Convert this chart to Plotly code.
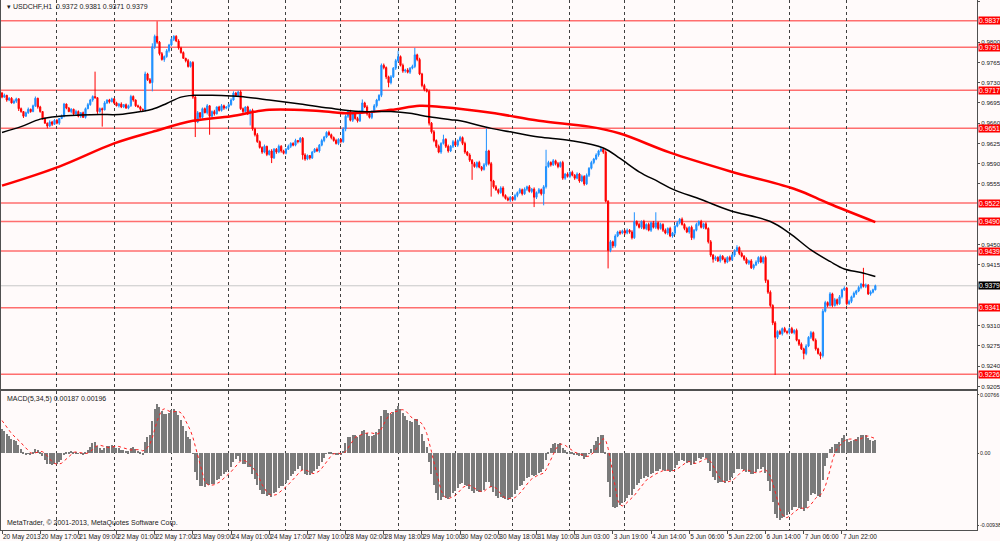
import numpy as np
import pandas as pd
import plotly.graph_objects as go
from plotly.subplots import make_subplots

# USDCHF H1, 20 May - 10 Jun 2013. Prices in 1/10000 (pips), one list per trading day
first_open = 9712
closes_by_day = [
    [9705, 9708, 9700, 9703, 9695, 9698, 9702, 9685, 9680, 9672, 9678, 9684, 9680, 9690, 9703, 9688, 9680, 9668, 9660, 9655, 9662, 9658, 9665],
    [9660, 9668, 9672, 9693, 9686, 9680, 9684, 9676, 9680, 9672, 9678, 9670, 9685, 9692, 9700, 9706, 9704, 9680, 9685, 9683, 9695, 9700, 9697, 9702],
    [9695, 9690, 9693, 9688, 9692, 9686, 9690, 9706, 9700, 9690, 9688, 9684, 9683, 9745, 9735, 9730, 9792, 9810, 9800, 9780, 9770, 9775, 9785, 9795],
    [9805, 9810, 9802, 9790, 9782, 9772, 9768, 9758, 9765, 9705, 9662, 9678, 9670, 9685, 9678, 9690, 9672, 9680, 9676, 9688, 9682, 9690, 9686, 9688],
    [9692, 9700, 9712, 9708, 9714, 9685, 9680, 9688, 9676, 9682, 9650, 9640, 9628, 9618, 9610, 9620, 9606, 9612, 9600, 9615, 9610, 9620, 9612, 9608],
    [9615, 9620, 9625, 9622, 9630, 9628, 9634, 9605, 9598, 9604, 9600, 9610, 9615, 9612, 9622, 9630, 9636, 9644, 9640, 9635, 9630, 9625, 9632],
    [9628, 9650, 9672, 9680, 9665, 9676, 9668, 9664, 9680, 9695, 9688, 9676, 9670, 9680, 9690, 9700, 9708, 9760, 9756, 9740, 9730, 9740, 9755, 9768],
    [9775, 9760, 9750, 9752, 9748, 9755, 9758, 9778, 9770, 9745, 9725, 9718, 9715, 9660, 9645, 9630, 9620, 9610, 9625, 9632, 9620, 9612, 9620, 9628],
    [9622, 9630, 9635, 9625, 9610, 9605, 9596, 9590, 9585, 9592, 9584, 9580, 9588, 9612, 9590, 9560, 9550, 9545, 9540, 9548, 9535, 9530, 9527, 9532],
    [9528, 9535, 9540, 9545, 9538, 9546, 9550, 9542, 9546, 9532, 9540, 9545, 9538, 9550, 9585, 9592, 9588, 9595, 9590, 9585, 9592, 9565, 9572, 9568],
    [9575, 9570, 9565, 9572, 9560, 9568, 9555, 9570, 9582, 9592, 9598, 9605, 9612, 9615, 9610, 9525, 9440, 9455, 9448, 9465, 9472, 9470, 9474],
    [9470, 9475, 9472, 9462, 9490, 9485, 9480, 9490, 9478, 9485, 9475, 9488, 9480, 9488, 9478, 9485, 9475, 9470, 9478, 9465, 9470],
    [9482, 9488, 9494, 9485, 9478, 9472, 9480, 9462, 9475, 9485, 9490, 9480, 9486, 9478, 9455, 9432, 9425, 9428, 9422, 9430, 9425, 9420, 9428, 9424],
    [9432, 9440, 9445, 9435, 9430, 9425, 9418, 9422, 9410, 9415, 9420, 9428, 9420, 9428, 9388, 9368, 9345, 9315, 9290, 9300, 9296, 9305, 9300, 9298],
    [9305, 9298, 9302, 9285, 9278, 9270, 9262, 9275, 9290, 9298, 9285, 9270, 9262, 9258, 9335, 9350, 9345, 9365, 9345, 9355, 9348, 9360, 9372, 9375],
    [9348, 9352, 9360, 9366, 9370, 9376, 9382, 9378, 9380, 9365, 9368, 9372, 9379],
]
# upper / lower wick length beyond the body, pips
wick_up_by_day = [
    [2, 3, 1, 2, 2, 3, 2, 1, 2, 1, 2, 3, 1, 2, 3, 1, 2, 1, 2, 1, 3, 2, 2],
    [2, 1, 3, 2, 1, 2, 2, 1, 3, 2, 1, 2, 2, 3, 2, 2, 43, 1, 2, 2, 3, 1, 2, 2],
    [1, 2, 2, 3, 1, 2, 2, 3, 2, 1, 2, 2, 1, 4, 2, 3, 6, 3, 26, 2, 3, 2, 3, 2],
    [3, 2, 2, 3, 2, 2, 1, 3, 2, 2, 2, 3, 1, 2, 2, 3, 1, 2, 3, 1, 2, 3, 2, 1],
    [2, 3, 3, 2, 2, 3, 2, 1, 2, 2, 3, 2, 3, 2, 2, 3, 1, 2, 3, 2, 2, 3, 2, 2],
    [2, 3, 2, 2, 3, 1, 2, 2, 3, 2, 1, 2, 2, 3, 2, 3, 2, 2, 3, 2, 2, 3, 2],
    [2, 3, 3, 2, 3, 2, 2, 3, 2, 6, 2, 3, 2, 2, 3, 2, 2, 3, 3, 2, 2, 3, 2, 3],
    [10, 2, 3, 2, 3, 2, 3, 12, 2, 3, 2, 3, 2, 3, 2, 3, 2, 3, 2, 8, 2, 3, 2, 3],
    [3, 2, 3, 2, 3, 2, 3, 2, 3, 2, 3, 2, 3, 39, 2, 3, 2, 3, 2, 3, 3, 2, 3, 2],
    [2, 3, 2, 3, 2, 3, 2, 3, 2, 3, 2, 3, 2, 3, 29, 3, 2, 3, 2, 3, 2, 3, 2, 3],
    [2, 3, 2, 3, 2, 3, 2, 3, 2, 3, 2, 3, 2, 3, 2, 3, 2, 3, 2, 3, 2, 3, 2],
    [2, 3, 2, 3, 16, 2, 3, 2, 3, 2, 3, 2, 3, 18, 2, 3, 2, 3, 2, 3, 2],
    [2, 3, 2, 3, 2, 3, 2, 3, 2, 3, 2, 3, 2, 3, 2, 3, 2, 3, 2, 3, 2, 3, 2, 3],
    [3, 2, 4, 2, 3, 2, 3, 2, 3, 2, 3, 2, 3, 2, 3, 2, 3, 2, 3, 2, 3, 2, 3, 2],
    [2, 3, 2, 3, 2, 3, 2, 3, 2, 3, 2, 3, 2, 3, 4, 3, 2, 3, 2, 3, 2, 3, 2, 3],
    [2, 3, 2, 3, 2, 3, 2, 28, 3, 2, 3, 2, 2],
]
wick_dn_by_day = [
    [2, 1, 3, 2, 1, 2, 3, 4, 2, 3, 1, 2, 2, 1, 2, 3, 2, 2, 1, 4, 2, 3, 1],
    [2, 3, 1, 2, 2, 1, 3, 2, 1, 2, 3, 1, 2, 1, 2, 3, 2, 4, 2, 29, 1, 2, 3, 1],
    [2, 1, 3, 2, 2, 1, 2, 2, 3, 2, 1, 3, 2, 3, 2, 2, 15, 4, 3, 3, 2, 4, 2, 3],
    [2, 3, 2, 3, 2, 1, 3, 2, 2, 3, 26, 2, 3, 2, 1, 3, 32, 2, 3, 1, 2, 2, 3, 2],
    [3, 2, 1, 2, 3, 2, 3, 2, 2, 20, 3, 3, 2, 2, 3, 2, 3, 2, 9, 2, 3, 2, 3, 2],
    [2, 1, 3, 2, 2, 3, 2, 8, 3, 2, 3, 2, 1, 2, 3, 2, 3, 2, 2, 3, 2, 2, 3],
    [3, 2, 4, 3, 2, 3, 2, 3, 2, 3, 2, 3, 2, 3, 2, 3, 2, 3, 3, 4, 8, 3, 2, 3],
    [3, 2, 3, 3, 2, 3, 2, 3, 3, 2, 3, 3, 2, 4, 3, 3, 3, 2, 3, 2, 3, 3, 2, 3],
    [2, 3, 2, 3, 3, 2, 3, 28, 2, 3, 2, 3, 2, 3, 3, 27, 3, 2, 3, 2, 3, 2, 2, 3],
    [3, 2, 3, 2, 3, 2, 3, 2, 3, 17, 3, 2, 3, 20, 3, 2, 3, 2, 3, 3, 2, 3, 3, 2],
    [3, 2, 3, 2, 3, 2, 3, 2, 3, 2, 3, 2, 3, 2, 3, 2, 31, 3, 4, 3, 2, 3, 2],
    [3, 2, 3, 3, 2, 3, 2, 3, 2, 3, 2, 3, 2, 3, 3, 2, 3, 2, 3, 2, 3],
    [3, 2, 3, 2, 3, 2, 3, 4, 3, 2, 3, 2, 3, 2, 3, 3, 6, 3, 2, 3, 2, 3, 2, 3],
    [2, 3, 2, 3, 2, 3, 2, 3, 2, 3, 2, 3, 2, 3, 4, 3, 3, 4, 65, 3, 2, 3, 2, 3],
    [3, 2, 3, 2, 3, 2, 10, 3, 2, 3, 2, 3, 2, 6, 3, 2, 3, 2, 3, 2, 3, 2, 3, 2],
    [3, 2, 3, 2, 3, 2, 3, 2, 3, 2, 3, 2, 1],
]

# moving averages: (bar index, price)
ma_black_idx = [0, 8, 16, 24, 33, 41, 49, 58, 63, 69, 75, 80, 88, 96, 100, 112, 125, 137, 150, 163, 171, 179,
                188, 192, 205, 213, 225, 238, 252, 259, 267, 275, 281, 293, 305, 322, 330, 339, 347, 353, 360, 366]
ma_black_val = [0.9644, 0.9654, 0.9667, 0.9672, 0.9674, 0.9675, 0.9675, 0.9680, 0.9684, 0.9694, 0.9705, 0.9708,
                0.9708, 0.9707, 0.9706, 0.9700, 0.9693, 0.9686, 0.9680, 0.9680, 0.9677, 0.9671, 0.9666, 0.9664,
                0.9651, 0.9645, 0.9636, 0.9630, 0.9617, 0.9599, 0.9576, 0.9559, 0.9546, 0.9528, 0.9509, 0.9490,
                0.9470, 0.9441, 0.9421, 0.9408, 0.9402, 0.9395]
ma_red_idx = [0, 24, 47, 63, 80, 96, 112, 133, 146, 163, 175, 184, 205, 225, 246, 259, 280, 305, 333, 346, 366]
ma_red_val = [0.9552, 0.9585, 0.9625, 0.9645, 0.9664, 0.9672, 0.9683, 0.9681, 0.9677, 0.9683, 0.9690, 0.9688,
              0.9678, 0.9664, 0.9654, 0.9642, 0.9609, 0.9577, 0.9545, 0.9522, 0.9489]

# horizontal levels drawn on the chart
levels = [0.9837, 0.9791, 0.9717, 0.9651, 0.9522, 0.9490, 0.9439, 0.9341, 0.9226]
# price scale labels left visible (the others sit under the level tags)
price_ticks = [0.9205, 0.9240, 0.9275, 0.9310, 0.9415, 0.9450, 0.9555, 0.9590,
               0.9625, 0.9660, 0.9695, 0.9730, 0.9765, 0.9800, 0.9870]
macd_ticks = [0.00766, 0.0, -0.00938]
macd_tick_text = ["0.00766", "0.00", "-0.00938"]

# MACD(5,34,5) state before the first visible bar (read from the indicator window)
ema_seed = (0.9712, 0.9676)
macd_before = [0.0052, 0.0048, 0.0044, 0.0039]

# ---- build bars
closes = np.array([c for d in closes_by_day for c in d], dtype=float)
up = np.array([w for d in wick_up_by_day for w in d], dtype=float)
dn = np.array([w for d in wick_dn_by_day for w in d], dtype=float)
opens = np.concatenate([[first_open], closes[:-1]])
highs = (np.maximum(opens, closes) + up) / 10000
lows = (np.minimum(opens, closes) - dn) / 10000
opens = opens / 10000
closes = closes / 10000
n = len(closes)
idx = np.arange(n)

# bar times: broker session opens Monday 01:00, three hours missing on 4 Jun
times = []
for d in pd.bdate_range("2013-05-20", "2013-06-10"):
    hours = range(1 if d.dayofweek == 0 else 0, 24)
    for h in hours:
        t = d + pd.Timedelta(hours=h)
        if d == pd.Timestamp("2013-06-04") and h in (1, 2, 3):
            continue
        times.append(t)
times = times[:n]

day_starts = [i for i in range(1, n) if times[i].date() != times[i - 1].date()]
label_idx = list(range(0, n, 16))
label_txt = [times[i].strftime("%-d %b %Y") if i == 0 else times[i].strftime("%-d %b %H:%M") for i in label_idx]

# MACD main and signal
e5, e34 = ema_seed
macd = []
for c in closes:
    e5 += (c - e5) * 2 / 6
    e34 += (c - e34) * 2 / 35
    macd.append(e5 - e34)
macd = np.array(macd)
ext = np.concatenate([macd_before, macd])
signal = np.array([ext[i:i + 5].mean() for i in range(n)])

# ---- figure
fig = make_subplots(rows=2, cols=1, shared_xaxes=True)

fig.add_trace(go.Candlestick(
    x=idx, open=opens, high=highs, low=lows, close=closes,
    increasing=dict(line=dict(color="#1E90FF", width=1), fillcolor="#1E90FF"),
    decreasing=dict(line=dict(color="#FF0000", width=1), fillcolor="#FF0000"),
    whiskerwidth=0, showlegend=False, hoverinfo="skip"), row=1, col=1)

fig.add_trace(go.Scatter(x=ma_red_idx, y=ma_red_val, mode="lines",
                         line=dict(color="#FF0000", width=2.5, shape="spline"),
                         showlegend=False, hoverinfo="skip"), row=1, col=1)
fig.add_trace(go.Scatter(x=ma_black_idx, y=ma_black_val, mode="lines",
                         line=dict(color="#000000", width=1.5, shape="spline"),
                         showlegend=False, hoverinfo="skip"), row=1, col=1)

fig.add_trace(go.Bar(x=idx, y=macd, width=0.6, marker=dict(color="#7a7a7a", line=dict(width=0)),
                     showlegend=False, hoverinfo="skip"), row=2, col=1)
fig.add_trace(go.Scatter(x=idx, y=signal, mode="lines",
                         line=dict(color="#FF2020", width=1, dash="dot"),
                         showlegend=False, hoverinfo="skip"), row=2, col=1)

# horizontal levels and their price tags
for lv in levels:
    fig.add_shape(type="line", xref="x domain", x0=0, x1=1, yref="y", y0=lv, y1=lv,
                  line=dict(color="rgba(255,50,50,0.7)", width=1.5), layer="below")
    fig.add_annotation(xref="paper", x=1, xanchor="left", xshift=1, yref="y", y=lv,
                       text=f"{lv:.4f}", showarrow=False, bgcolor="#FF0000", borderpad=0,
                       font=dict(family="Liberation Sans", size=6.8, color="white"))
last = closes[-1]
fig.add_shape(type="line", xref="x domain", x0=0, x1=1, yref="y", y0=last, y1=last,
              line=dict(color="#C8C8C8", width=1), layer="below")
fig.add_annotation(xref="paper", x=1, xanchor="left", xshift=1, yref="y", y=last,
                   text=f"{last:.4f}", showarrow=False, bgcolor="#000000", borderpad=0,
                   font=dict(family="Liberation Sans", size=6.8, color="white"))

small = dict(family="Liberation Sans", size=7, color="#202020")
scale_font = dict(family="Liberation Sans", size=6.2, color="#202020")
fig.add_annotation(xref="paper", yref="paper", x=0.004, y=0.998, xanchor="left", yanchor="top",
                   text=f"▾ USDCHF,H1  {opens[-1]:.4f} {highs[-1]:.4f} {lows[-1]:.4f} {closes[-1]:.4f}",
                   showarrow=False, font=small)
fig.add_annotation(xref="paper", yref="paper", x=0.004, y=0.258, xanchor="left", yanchor="top",
                   text="MACD(5,34,5) 0.00187 0.00196", showarrow=False, font=small)
fig.add_annotation(xref="paper", yref="paper", x=0.004, y=0.002, xanchor="left", yanchor="bottom",
                   text="MetaTrader, © 2001-2013, MetaQuotes Software Corp.", showarrow=False, font=small)

grid = dict(tickmode="array", tickvals=day_starts, showgrid=True, gridcolor="#404040",
            griddash="dot", gridwidth=1, ticks="")
axis_line = dict(showline=True, mirror=True, linecolor="#505050", linewidth=1, zeroline=False,
                 automargin=False)

fig.update_xaxes(range=[-0.42, 408.6], showgrid=False, rangeslider_visible=False, minor=grid, **axis_line)
fig.update_xaxes(tickmode="array", tickvals=label_idx, ticktext=label_txt, ticks="outside", ticklen=3,
                 tickcolor="#505050", ticklabelposition="outside right", tickangle=0,
                 tickfont=dict(family="Liberation Sans", size=6.5, color="#202020"), row=2, col=1)
fig.update_xaxes(showticklabels=False, row=1, col=1)

fig.update_yaxes(side="right", showgrid=False, ticks="outside", ticklen=2, tickcolor="#505050",
                 tickfont=scale_font, ticklabelstandoff=0, **axis_line)
fig.update_yaxes(domain=[0.266, 1], range=[0.92006, 0.98728], tickmode="array", tickvals=price_ticks,
                 ticktext=[f"{t:.4f}" for t in price_ticks], row=1, col=1)
fig.update_yaxes(domain=[0, 0.2623], range=[-0.01003, 0.00817], tickmode="array", tickvals=macd_ticks,
                 ticktext=macd_tick_text, ticklen=1,
                 tickfont=dict(family="Liberation Sans", size=5.3, color="#202020"), row=2, col=1)

fig.update_layout(
    width=1000, height=541,
    margin=dict(l=1, r=23, t=0, b=11),
    paper_bgcolor="#FFFAFA", plot_bgcolor="#FFFAFA",
    hovermode=False, bargap=0, showlegend=False,
)

# the page is exactly the figure size: drop the default body margin so nothing scrolls
fig.write_html("out.html", config={"displayModeBar": False},
               post_script="document.body.style.margin='0';document.body.style.overflow='hidden';")
